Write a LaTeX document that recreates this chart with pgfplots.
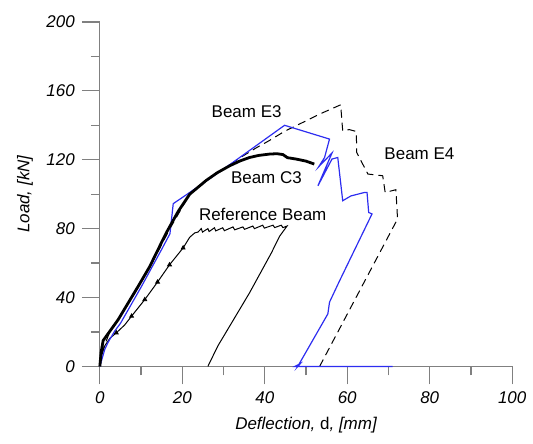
\documentclass[border=0pt]{standalone}
\usepackage{fontspec}
\setmainfont{Liberation Sans}
\usepackage{pgfplots}
\pgfplotsset{compat=1.18}
\definecolor{axgray}{RGB}{128,128,128}
\definecolor{beamblue}{RGB}{45,45,240}

\begin{document}
\begin{tikzpicture}
\begin{axis}[
	at={(0,0)}, anchor=south west,
	scale only axis,
	width=206.5pt, height=172.5pt,
	xmin=0, xmax=100, ymin=0, ymax=200,
	axis x line=bottom, axis y line=left,
	axis line style={-, axgray, line width=0.6pt},
	tick align=outside,
	xtick={0,20,...,100}, ytick={0,40,...,200},
	minor tick num=1,
	major tick length=9pt, minor tick length=4.5pt,
	tick style={axgray, line width=0.6pt},
	/pgf/number format/assume math mode=true,
	ticklabel style={font=\fontsize{8.5}{10}\selectfont\itshape},
	xlabel={Deflection, {\upshape d}, [mm]},
	ylabel={Load, [kN]},
	label style={font=\fontsize{8.5}{10}\selectfont\itshape},
	clip=false,
]
% Beam E4 (dashed)
\addplot[black, line width=0.5pt, dash pattern=on 4pt off 2.5pt] coordinates {
(0,0) (0.8,10) (2.4,20) (7.3,38) (12.1,57.5) (17,80) (21.8,100) (25.8,108)
(31.5,117) (33.9,121) (38,127) (41,131) (44.8,136.5) (48.4,140.7)
(53.3,146.5) (58.4,151.9) (58.9,136.8) (60.5,137.5) (62.2,136.4)
(62.3,124.2) (65,111.7) (68.6,110.7) (69.2,101) (71.8,102.6) (72.2,85.6)
(53.3,0)
};
% Reference beam
\addplot[black, line width=0.5pt] coordinates {
(0,0) (0.5,7) (1.2,12) (2.5,16.5) (4,19.5) (6,24) (7.7,29.2) (10.9,38.8) (14,49)
(16.9,59) (20.2,68.8) (21.8,75) (23,77.5)
(23.8,78) (24.6,80) (24.9,78) (26.2,80) (26.5,78.3) (27.8,80.5) (28.1,78.7)
(29.8,80.5) (30.2,78.8) (32.3,81) (32.7,79.3) (34.7,81) (35.1,79.6)
(37.1,81.5) (37.5,80) (39.5,82) (39.9,80.3) (42,82) (42.4,80.6) (44,82)
(44.4,80.6) (45.4,81.5)
(43.6,75.6) (41.6,65.9) (36.3,42.7) (28.6,11.8) (26.2,0)
};
\addplot[black, only marks, mark=triangle*, mark size=1.1pt] coordinates {
(4,19.5) (7.7,29.2) (10.9,38.8) (14,49) (16.9,59) (20.2,68.8)
};
% Beam E3 (blue)
\addplot[beamblue, line width=0.6pt] coordinates {
(0,0) (1.2,9.9) (2,14) (3.6,20.5) (5,25) (10,46) (15,68) (17,77) (17.8,94.5)
(21.8,101) (26,108) (32,118) (44.8,140) (55.7,132) (54.5,121.3)
(53.1,116) (56.3,123.9) (52.9,104.9) (56.3,120.4) (57.7,121.3)
(58.9,96.2) (60.9,99) (64.2,101) (64.8,101) (65.2,89.4) (66,88.5)
(58.1,49.5) (55.7,37.3) (55.3,30.5) (48,0) (48.6,1.6) (47.3,0) (71,0)
};
% Beam C3 (thick)
\addplot[black, line width=1.4pt] coordinates {
(0,0) (0.3,8) (0.8,15) (2,19) (4.4,27) (9.3,46.5) (12.1,58)
(16.1,77.5) (19,90) (21.8,100) (25.8,108) (28.5,112.5) (31.5,116.5)
(34,119.3) (36.3,121.3) (38.5,122.5) (41.2,123.3) (43,123.5) (44.4,123)
(45.5,121.2) (47.6,120.4) (50,119.2) (52,117.5)
};
\node[font=\fontsize{8.5}{10}\selectfont] at (axis cs:35.6,147.8) {Beam E3};
\node[font=\fontsize{8.5}{10}\selectfont] at (axis cs:40.4,109.6) {Beam C3};
\node[font=\fontsize{8.5}{10}\selectfont] at (axis cs:39.5,88) {Reference Beam};
\node[font=\fontsize{8.5}{10}\selectfont] at (axis cs:77.5,123.5) {Beam E4};
\end{axis}
\path (-50pt,-38.5pt) rectangle (216.5pt,183.5pt);
\end{tikzpicture}
\end{document}
